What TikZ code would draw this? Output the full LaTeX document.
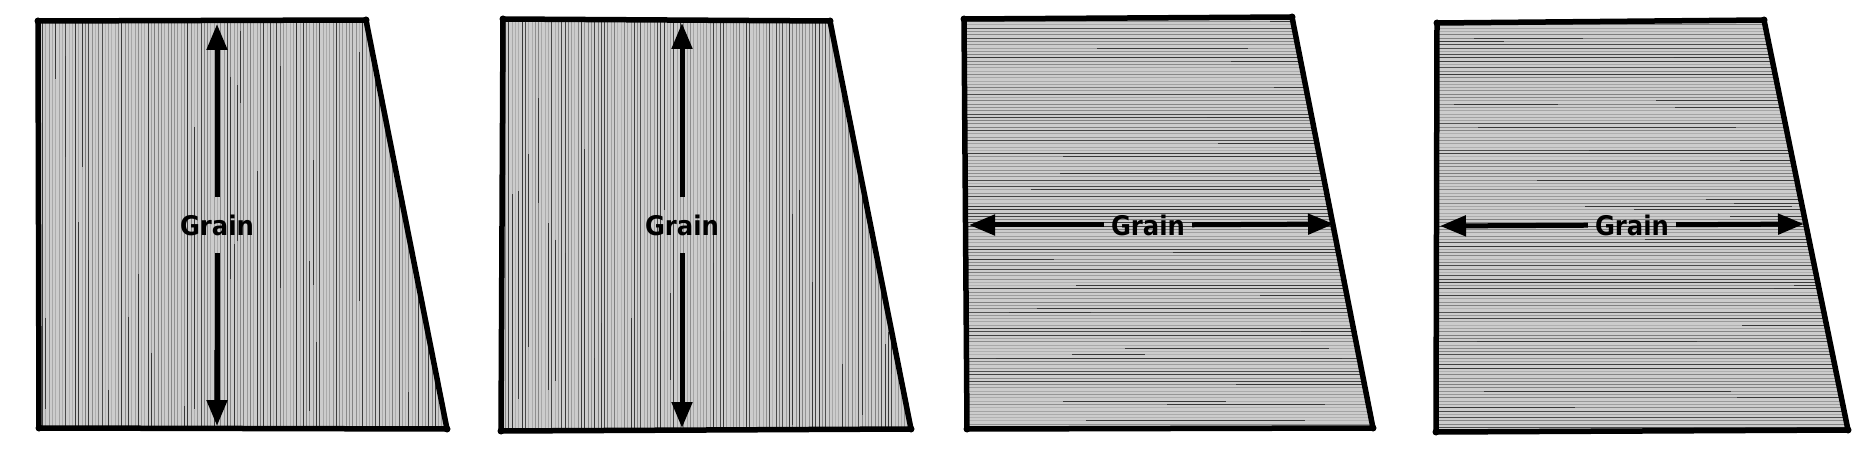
\documentclass[tikz,border=0pt]{standalone}
\usepackage{fontspec}
\newfontfamily\grainfont{DejaVu Sans Condensed}
\usetikzlibrary{arrows.meta}
\definecolor{woodbg}{RGB}{204,204,204}
\tikzset{
  outline/.style={line width=5.5pt, line join=round, line cap=round, black},
  grainarrow/.style={line width=5pt, -{Triangle[length=26pt,width=20pt]}},
  vlabel/.style={font=\grainfont\bfseries\fontsize{27}{30}\selectfont, inner sep=0pt, minimum height=56pt, minimum width=10pt},
  hlabel/.style={font=\grainfont\bfseries\fontsize{27}{30}\selectfont, inner sep=0pt, minimum width=88pt, minimum height=10pt},
  hatch/.style={line width=0.9pt},
}
\newcommand\vhatchlines[2]{%
  \foreach \xx in {#1,#2,...,460} {%
    \pgfmathsetmacro\ra{rnd}%
    \pgfmathtruncatemacro\cc{\ra<0.25 ? 68+12*rnd : 30+22*rnd}%
    \draw[hatch, black!\cc] (\xx,10) -- (\xx,440);%
    \pgfmathsetmacro\pp{rnd}%
    \ifdim\pp pt<0.22pt
      \pgfmathsetmacro\ya{10+400*rnd}%
      \pgfmathsetmacro\yb{\ya+60+300*rnd}%
      \draw[hatch, black!78] (\xx,\ya) -- (\xx,\yb);%
    \fi
  }%
}
\newcommand\hhatchlines[2]{%
  \foreach \yy in {#1,#2,...,440} {%
    \pgfmathsetmacro\ra{rnd}%
    \pgfmathtruncatemacro\cc{\ra<0.25 ? 68+12*rnd : 30+22*rnd}%
    \draw[hatch, black!\cc] (-10,\yy) -- (430,\yy);%
    \pgfmathsetmacro\pp{rnd}%
    \ifdim\pp pt<0.22pt
      \pgfmathsetmacro\xa{400*rnd}%
      \pgfmathsetmacro\xb{\xa+60+300*rnd}%
      \draw[hatch, black!78] (\xa,\yy) -- (\xb,\yy);%
    \fi
  }%
}
\begin{document}
\begin{tikzpicture}[x=1pt,y=-1pt]
\pgfmathsetseed{17}
\useasboundingbox (0,0) rectangle (1874,462);
% corners
\coordinate (a1) at (38,21);   \coordinate (b1) at (366,20);  \coordinate (c1) at (447,429);  \coordinate (d1) at (39,428);
\coordinate (a2) at (503,19);  \coordinate (b2) at (830,21);  \coordinate (c2) at (911,429);  \coordinate (d2) at (501,431);
\coordinate (a3) at (964,19);  \coordinate (b3) at (1292,17); \coordinate (c3) at (1373,428); \coordinate (d3) at (967,429);
\coordinate (a4) at (1437,23); \coordinate (b4) at (1764,20); \coordinate (c4) at (1848,430); \coordinate (d4) at (1436,432);
% fills and hatching
\foreach \k/\dir in {1/v,2/v,3/h,4/h} {
  \begin{scope}
    \clip (a\k) -- (b\k) -- (c\k) -- (d\k) -- cycle;
    \fill[woodbg] (a\k) -- (b\k) -- (c\k) -- (d\k) -- cycle;
    \if v\dir
      \ifnum\k=1 \begin{scope}[shift={(0,0)}]\vhatchlines{36}{39.3}\end{scope}\fi
      \ifnum\k=2 \begin{scope}[shift={(463,0)}]\vhatchlines{36}{39.3}\end{scope}\fi
    \else
      \ifnum\k=3 \begin{scope}[shift={(958,0)}]\hhatchlines{15}{18.3}\end{scope}\fi
      \ifnum\k=4 \begin{scope}[shift={(1430,0)}]\hhatchlines{15}{18.3}\end{scope}\fi
    \fi
  \end{scope}
}
% outlines
\foreach \k in {1,2,3,4} {
  \draw[outline] (a\k) -- (b\k) -- (c\k) -- (d\k) -- cycle;
  \foreach \p in {a,b,c,d} { \fill (\p\k) circle (3.5pt); }
}
% labels and arrows
\node[vlabel] (g1) at (217,225) {Grain};
\coordinate (t1) at (217,24);  \coordinate (u1) at (217,426);
\draw[grainarrow] (g1) -- (t1);
\draw[grainarrow] (g1) -- (u1);
\node[vlabel] (g2) at (682,225) {Grain};
\coordinate (t2) at (682,23);  \coordinate (u2) at (682,428);
\draw[grainarrow] (g2) -- (t2);
\draw[grainarrow] (g2) -- (u2);
\node[hlabel] (g3) at (1148,225) {Grain};
\coordinate (l3) at (969,225); \coordinate (r3) at (1334,224);
\draw[grainarrow] (g3) -- (l3);
\draw[grainarrow] (g3) -- (r3);
\node[hlabel] (g4) at (1632,225) {Grain};
\coordinate (l4) at (1440,226); \coordinate (r4) at (1804,224);
\draw[grainarrow] (g4) -- (l4);
\draw[grainarrow] (g4) -- (r4);
\end{tikzpicture}
\end{document}
